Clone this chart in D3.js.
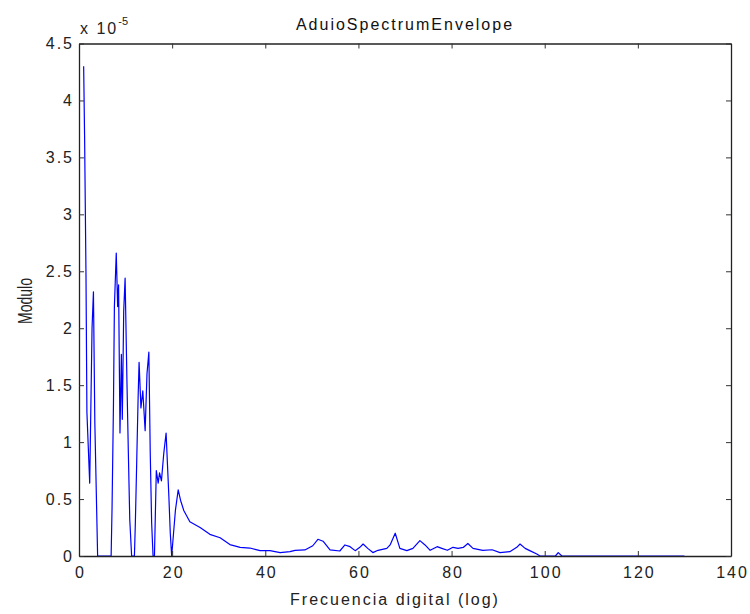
<!DOCTYPE html>
<html>
<head>
<meta charset="utf-8">
<script src="https://cdn.jsdelivr.net/npm/d3@7"></script>
<style>
  html, body { margin: 0; padding: 0; background: #fff; }
  svg { display: block; font-family: "Liberation Sans", Arial, Helvetica, sans-serif; }
</style>
</head>
<body>
<svg id="chart" width="750" height="614"></svg>
<script>
// Spectral envelope: digital frequency index vs. magnitude (units of 1e-5)
const freq = [
  1.0, 1.2, 1.5, 1.7, 2.3, 2.8, 3.1, 3.4, 3.8, 4.0,
  6.9, 7.1, 7.4, 7.6, 8.0, 8.3, 8.5, 8.8, 9.1, 9.3, 9.6, 9.9, 10.3, 10.6, 10.9, 11.3,
  11.9, 12.1, 12.4, 12.7, 12.9, 13.3, 13.7, 14.2, 14.6, 15.0, 15.3, 15.6, 15.9,
  16.2, 16.6, 17.0, 17.3, 17.7, 18.2, 18.7, 19.0, 19.3, 19.6, 19.9,
  20.3, 20.7, 21.3, 21.8, 22.5, 23.8, 26.0, 28.1, 30.3, 32.4, 34.6, 36.7, 38.9,
  41.0, 43.2, 45.3, 46.4, 48.5, 50.2, 51.3, 52.4, 53.9, 56.0, 57.1, 58.2, 59.3,
  60.3, 61.0, 62.0, 63.1, 64.2, 66.1, 66.8, 67.9, 68.9, 70.4, 71.7, 73.2, 74.3,
  75.4, 76.9, 77.9, 79.1, 80.3, 81.4, 82.5, 83.5, 84.6, 86.7, 88.7, 90.4, 92.5,
  94.0, 94.7, 95.8, 96.9, 98.3, 99.0, 102.3, 102.9, 103.7, 130.0
];
const modulo = [
  4.30, 3.69, 2.47, 1.26, 0.64, 2.00, 2.32, 1.17, 0.39, 0.00,
  0.00, 0.43, 1.33, 2.19, 2.66, 2.19, 2.38, 1.08, 1.77, 1.20, 2.15, 2.44, 1.52, 0.90, 0.32, 0.00,
  0.00, 0.29, 0.84, 1.40, 1.70, 1.30, 1.45, 1.10, 1.60, 1.79, 0.90, 0.29, 0.00,
  0.00, 0.75, 0.64, 0.73, 0.66, 0.90, 1.08, 0.80, 0.52, 0.20, 0.00,
  0.20, 0.40, 0.58, 0.49, 0.40, 0.30, 0.25, 0.19, 0.16, 0.10, 0.076, 0.07, 0.047,
  0.047, 0.03, 0.038, 0.05, 0.053, 0.09, 0.147, 0.13, 0.053, 0.044, 0.097, 0.082, 0.047,
  0.076, 0.105, 0.067, 0.03, 0.05, 0.067, 0.097, 0.20, 0.067, 0.047, 0.067, 0.135, 0.097,
  0.05, 0.082, 0.067, 0.05, 0.076, 0.067, 0.075, 0.11, 0.067, 0.05, 0.055, 0.03, 0.038,
  0.076, 0.105, 0.067, 0.045, 0.018, 0.00, 0.00, 0.03, 0.00, 0.00
];

const xTicks = [0, 20, 40, 60, 80, 100, 120, 140];
const yTicks = [0, 0.5, 1, 1.5, 2, 2.5, 3, 3.5, 4, 4.5];
const yTickLabels = ["0", "0.5", "1", "1.5", "2", "2.5", "3", "3.5", "4", "4.5"];

const chartTitle = "AduioSpectrumEnvelope";
const xTitle = "Frecuencia digital (log)";
const yTitle = "Modulo";

const svg = d3.select("#chart");
const plotLeft = 79, plotRight = 731, plotTop = 43.5, plotBottom = 556;
const textSize = 16, textSpacing = 2;

const x = d3.scaleLinear().domain([0, 140]).range([plotLeft, plotRight]);
const y = d3.scaleLinear().domain([0, 4.5]).range([plotBottom, plotTop]);

const points = freq.map((f, i) => [f, modulo[i]]);

// data line
svg.append("path")
  .datum(points)
  .attr("fill", "none")
  .attr("stroke", "#0000ff")
  .attr("stroke-width", 1.2)
  .attr("stroke-linejoin", "round")
  .attr("d", d3.line().x(d => x(d[0])).y(d => y(d[1])));

// axes with inward ticks on all four sides
function styleAxis(g, showText) {
  g.select(".domain").attr("stroke", "#222").attr("stroke-width", 1.3);
  g.selectAll(".tick line").attr("stroke", "#333");
  g.selectAll(".tick text").attr("fill", "#222")
    .attr("font-size", textSize).attr("letter-spacing", textSpacing);
  if (!showText) g.selectAll(".tick text").remove();
}

svg.append("g").attr("transform", `translate(0,${plotBottom})`)
  .call(d3.axisBottom(x).tickValues(xTicks).tickSizeInner(-5).tickSizeOuter(0).tickPadding(10.5).tickFormat(d3.format("d")))
  .call(g => styleAxis(g, true))
  .call(g => g.selectAll(".tick text").attr("dx", textSpacing / 2));

svg.append("g").attr("transform", `translate(0,${plotTop})`)
  .call(d3.axisTop(x).tickValues(xTicks).tickSizeInner(-5).tickSizeOuter(0))
  .call(g => styleAxis(g, false));

svg.append("g").attr("transform", `translate(${plotLeft},0)`)
  .call(d3.axisLeft(y).tickValues(yTicks).tickSizeInner(-5).tickSizeOuter(0).tickPadding(5)
    .tickFormat((d, i) => yTickLabels[i]))
  .call(g => styleAxis(g, true));

svg.append("g").attr("transform", `translate(${plotRight},0)`)
  .call(d3.axisRight(y).tickValues(yTicks).tickSizeInner(-5).tickSizeOuter(0))
  .call(g => styleAxis(g, false));

// exponent multiplier
const expo = svg.append("text").attr("x", 80).attr("y", 34)
  .attr("font-size", textSize).attr("letter-spacing", textSpacing).attr("fill", "#222");
expo.append("tspan").text("x 10");
expo.append("tspan").attr("dy", -9).attr("font-size", 11).attr("letter-spacing", 0).text("-5");

// titles
svg.append("text").attr("x", 405).attr("y", 30)
  .attr("text-anchor", "middle").attr("font-size", textSize).attr("letter-spacing", textSpacing)
  .attr("fill", "#111")
  .text(chartTitle);

svg.append("text").attr("x", 395).attr("y", 605)
  .attr("text-anchor", "middle").attr("font-size", textSize).attr("letter-spacing", textSpacing)
  .attr("fill", "#222")
  .text(xTitle);

svg.append("text")
  .attr("transform", `translate(32,301) scale(1.4,1) rotate(-90)`)
  .attr("text-anchor", "middle").attr("font-size", 14).attr("fill", "#222")
  .text(yTitle);
</script>
</body>
</html>
